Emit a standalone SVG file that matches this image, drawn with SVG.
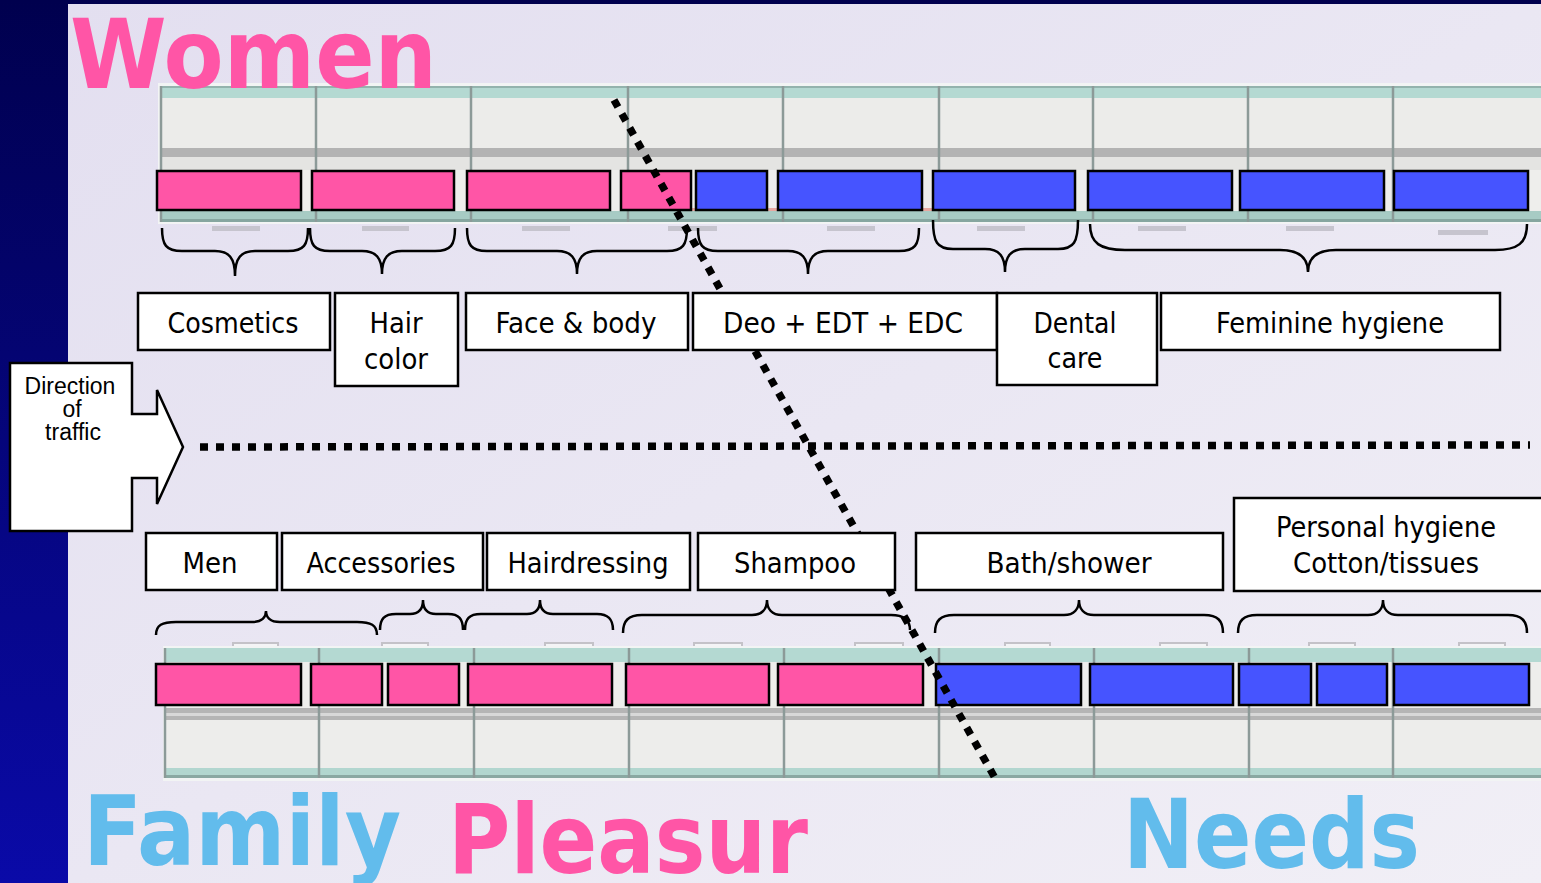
<svg xmlns="http://www.w3.org/2000/svg" width="1541" height="883" viewBox="0 0 1541 883">
<defs>
<linearGradient id="bgBlue" x1="0" y1="0" x2="0" y2="1">
<stop offset="0" stop-color="#00004e"/>
<stop offset="1" stop-color="#0a0aa8"/>
</linearGradient>
<linearGradient id="panel" x1="0" y1="0" x2="1" y2="1">
<stop offset="0" stop-color="#e3dff0"/>
<stop offset="1" stop-color="#f1eff6"/>
</linearGradient>
<style>
.pk{fill:#ff55a6;stroke:#000;stroke-width:2.5}
.bl{fill:#4654ff;stroke:#000;stroke-width:2.5}
.lb{fill:#fff;stroke:#000;stroke-width:2.5}
.tx{font-family:"DejaVu Sans Condensed","DejaVu Sans",sans-serif;font-size:29px;fill:#000;text-anchor:middle}
.ar{font-family:"Liberation Sans",Arial,sans-serif;font-size:23px;fill:#000;text-anchor:middle}
.brace{fill:none;stroke:#000;stroke-width:2.5}
.dots{fill:none;stroke:#000;stroke-width:7.5;stroke-dasharray:8 8}
.big{font-family:"DejaVu Sans",sans-serif;font-weight:bold;font-size:97px}
.div{stroke:#8c9a98;stroke-width:2.5}
.tick{fill:#c6c4ce}
.tickb{fill:#f4f4f6;stroke:#c4c2c8;stroke-width:2}
</style>
</defs>
<rect x="0" y="0" width="1541" height="883" fill="url(#bgBlue)"/>
<rect x="68" y="4" width="1473" height="879" fill="url(#panel)"/>

<g id="shelf-top">
<rect x="158" y="83" width="1383" height="141" fill="#f2f4f4"/>
<rect x="160" y="86" width="1381" height="12" fill="#b4d9d2"/>
<rect x="160" y="86" width="1381" height="2" fill="#93b3ad"/>
<rect x="160" y="98" width="1381" height="50" fill="#ececea"/>
<rect x="160" y="148" width="1381" height="9" fill="#b3b3b3"/>
<rect x="160" y="157" width="1381" height="13" fill="#e4e4e2"/>
<rect x="160" y="170" width="1381" height="41" fill="#eeeeec"/>
<rect x="620" y="208" width="320" height="5" fill="#e6a8a0"/>
<rect x="160" y="211" width="1381" height="11" fill="#a7cbc4"/>
<rect x="160" y="219" width="1381" height="3" fill="#86a6a0"/>
<g class="div">
<line x1="161" y1="86" x2="161" y2="222"/><line x1="316" y1="86" x2="316" y2="222"/><line x1="471" y1="86" x2="471" y2="222"/><line x1="628" y1="86" x2="628" y2="222"/><line x1="783" y1="86" x2="783" y2="222"/><line x1="939" y1="86" x2="939" y2="222"/><line x1="1093" y1="86" x2="1093" y2="222"/><line x1="1248" y1="86" x2="1248" y2="222"/><line x1="1393" y1="86" x2="1393" y2="222"/>
</g>
<g class="tick">
<rect x="212" y="226" width="48" height="5"/><rect x="362" y="226" width="47" height="5"/><rect x="522" y="226" width="48" height="5"/><rect x="668" y="226" width="49" height="5"/><rect x="827" y="226" width="48" height="5"/><rect x="977" y="226" width="48" height="5"/><rect x="1138" y="226" width="48" height="5"/><rect x="1286" y="226" width="48" height="5"/><rect x="1438" y="230" width="50" height="5"/>
</g>
</g>

<g id="products-top">
<rect class="pk" x="157" y="171" width="144" height="39"/>
<rect class="pk" x="312" y="171" width="142" height="39"/>
<rect class="pk" x="467" y="171" width="143" height="39"/>
<rect class="pk" x="621" y="171" width="70" height="39"/>
<rect class="bl" x="696" y="171" width="71" height="39"/>
<rect class="bl" x="778" y="171" width="144" height="39"/>
<rect class="bl" x="933" y="171" width="142" height="39"/>
<rect class="bl" x="1088" y="171" width="144" height="39"/>
<rect class="bl" x="1240" y="171" width="144" height="39"/>
<rect class="bl" x="1394" y="171" width="134" height="39"/>
</g>

<g id="shelf-bottom">
<g class="tickb">
<rect x="233" y="643" width="45" height="9"/><rect x="382" y="643" width="46" height="9"/><rect x="545" y="643" width="48" height="9"/><rect x="694" y="643" width="48" height="9"/><rect x="855" y="643" width="48" height="9"/><rect x="1005" y="643" width="45" height="9"/><rect x="1160" y="643" width="47" height="9"/><rect x="1309" y="643" width="46" height="9"/><rect x="1459" y="643" width="46" height="9"/>
</g>
<rect x="163" y="646" width="1378" height="135" fill="#f2f4f4"/>
<rect x="165" y="648" width="1376" height="14" fill="#b4d9d2"/>
<rect x="165" y="662" width="1376" height="46" fill="#eeeeec"/>
<rect x="165" y="708" width="1376" height="12" fill="#b5b5b5"/>
<rect x="165" y="713" width="1376" height="3" fill="#d8d8d8"/>
<rect x="165" y="720" width="1376" height="48" fill="#ededeb"/>
<rect x="165" y="768" width="1376" height="10" fill="#b2d6cf"/>
<rect x="165" y="775" width="1376" height="3" fill="#8aa8a2"/>
<g class="div">
<line x1="165" y1="648" x2="165" y2="778"/><line x1="319" y1="648" x2="319" y2="778"/><line x1="474" y1="648" x2="474" y2="778"/><line x1="629" y1="648" x2="629" y2="778"/><line x1="784" y1="648" x2="784" y2="778"/><line x1="939" y1="648" x2="939" y2="778"/><line x1="1094" y1="648" x2="1094" y2="778"/><line x1="1249" y1="648" x2="1249" y2="778"/><line x1="1393" y1="648" x2="1393" y2="778"/>
</g>
</g>

<g id="products-bottom">
<rect class="pk" x="156" y="664" width="145" height="41"/>
<rect class="pk" x="311" y="664" width="71" height="41"/>
<rect class="pk" x="388" y="664" width="71" height="41"/>
<rect class="pk" x="468" y="664" width="144" height="41"/>
<rect class="pk" x="626" y="664" width="143" height="41"/>
<rect class="pk" x="778" y="664" width="145" height="41"/>
<rect class="bl" x="936" y="664" width="145" height="41"/>
<rect class="bl" x="1090" y="664" width="143" height="41"/>
<rect class="bl" x="1239" y="664" width="72" height="41"/>
<rect class="bl" x="1317" y="664" width="70" height="41"/>
<rect class="bl" x="1394" y="664" width="135" height="41"/>
</g>

<g id="connectors">
<g class="brace">
<path d="M162,228 C162,245 166,251 182,251 L215,251 C229,251 235,258 235,276 C235,258 241,251 255,251 L288,251 C304,251 308,245 308,228"/>
<path d="M310,228 C310,245 314,251 330,251 L362,251 C376,251 382,258 382,274 C382,258 388,251 402,251 L435,251 C451,251 455,245 455,228"/>
<path d="M467,228 C467,245 471,251 487,251 L557,251 C571,251 577,258 577,274 C577,258 583,251 597,251 L667,251 C683,251 687,245 687,228"/>
<path d="M698,228 C698,245 702,251 718,251 L788,251 C802,251 808,258 808,274 C808,258 814,251 828,251 L899,251 C915,251 919,245 919,228"/>
<path d="M933,220 C933,242 937,249 953,249 L985,249 C999,249 1005,256 1005,272 C1005,256 1011,249 1025,249 L1058,249 C1074,249 1078,242 1078,220"/>
<path d="M1090,224 C1090,243 1100,250 1125,250 L1280,250 C1300,250 1308,258 1308,272 C1308,258 1316,250 1336,250 L1495,250 C1518,250 1527,243 1527,224"/>
<path d="M156,635 C156,625 162,622 176,622 L252,622 C262,622 266,617 266,611 C266,617 270,622 280,622 L357,622 C371,622 377,625 377,635"/>
<path d="M380,630 C380,619 384,614 396,614 L410,614 C419,614 423,609 423,600 C423,609 427,614 436,614 L448,614 C459,614 463,619 463,630"/>
<path d="M465,630 C465,619 469,614 481,614 L527,614 C536,614 540,609 540,600 C540,609 544,614 553,614 L597,614 C608,614 613,619 613,630"/>
<path d="M623,633 C623,621 628,615 642,615 L752,615 C762,615 767,609 767,600 C767,609 772,615 782,615 L891,615 C905,615 910,621 910,630"/>
<path d="M935,633 C935,621 940,615 954,615 L1064,615 C1074,615 1079,609 1079,600 C1079,609 1084,615 1094,615 L1204,615 C1218,615 1223,621 1223,633"/>
<path d="M1238,633 C1238,621 1243,615 1257,615 L1368,615 C1378,615 1383,609 1383,600 C1383,609 1388,615 1398,615 L1508,615 C1522,615 1527,621 1527,633"/>
</g>
<line class="dots" x1="200" y1="447" x2="1530" y2="445"/>
<line class="dots" x1="614" y1="100" x2="995" y2="778"/>
</g>

<g id="direction-of-traffic">
<polygon points="10,363 132,363 132,414 157,414 157,390 183,447 157,504 157,478 132,478 132,531 10,531" fill="#fff" stroke="#000" stroke-width="2.5"/>
<text class="ar" x="70" y="394">Direction</text>
<text class="ar" x="72" y="417">of</text>
<text class="ar" x="73" y="440">traffic</text>
</g>

<g id="label-cosmetics"><rect class="lb" x="138" y="293" width="192" height="57"/><text class="tx" x="233" y="333" textLength="131" lengthAdjust="spacingAndGlyphs">Cosmetics</text></g>
<g id="label-hair-color"><rect class="lb" x="335" y="293" width="123" height="93"/><text class="tx" x="396" y="333" textLength="53" lengthAdjust="spacingAndGlyphs">Hair</text><text class="tx" x="396" y="369" textLength="64" lengthAdjust="spacingAndGlyphs">color</text></g>
<g id="label-face-body"><rect class="lb" x="466" y="293" width="222" height="57"/><text class="tx" x="576" y="333" textLength="161" lengthAdjust="spacingAndGlyphs">Face &amp; body</text></g>
<g id="label-deo"><rect class="lb" x="693" y="293" width="304" height="57"/><text class="tx" x="843" y="333" textLength="240" lengthAdjust="spacingAndGlyphs">Deo + EDT + EDC</text></g>
<g id="label-dental-care"><rect class="lb" x="997" y="293" width="160" height="92"/><text class="tx" x="1075" y="333" textLength="83" lengthAdjust="spacingAndGlyphs">Dental</text><text class="tx" x="1075" y="368" textLength="55" lengthAdjust="spacingAndGlyphs">care</text></g>
<g id="label-feminine-hygiene"><rect class="lb" x="1161" y="293" width="339" height="57"/><text class="tx" x="1330" y="333" textLength="228" lengthAdjust="spacingAndGlyphs">Feminine hygiene</text></g>

<g id="label-men"><rect class="lb" x="146" y="533" width="131" height="57"/><text class="tx" x="210" y="573" textLength="55" lengthAdjust="spacingAndGlyphs">Men</text></g>
<g id="label-accessories"><rect class="lb" x="282" y="533" width="201" height="57"/><text class="tx" x="381" y="573" textLength="149" lengthAdjust="spacingAndGlyphs">Accessories</text></g>
<g id="label-hairdressing"><rect class="lb" x="487" y="533" width="203" height="57"/><text class="tx" x="588" y="573" textLength="161" lengthAdjust="spacingAndGlyphs">Hairdressing</text></g>
<g id="label-shampoo"><rect class="lb" x="698" y="533" width="197" height="57"/><text class="tx" x="795" y="573" textLength="122" lengthAdjust="spacingAndGlyphs">Shampoo</text></g>
<g id="label-bath-shower"><rect class="lb" x="916" y="533" width="307" height="57"/><text class="tx" x="1069" y="573" textLength="165" lengthAdjust="spacingAndGlyphs">Bath/shower</text></g>
<g id="label-personal-hygiene"><rect class="lb" x="1234" y="498" width="310" height="93"/><text class="tx" x="1386" y="537" textLength="220" lengthAdjust="spacingAndGlyphs">Personal hygiene</text><text class="tx" x="1386" y="573" textLength="186" lengthAdjust="spacingAndGlyphs">Cotton/tissues</text></g>

<g id="titles">
<text class="big" x="70" y="88" fill="#ff55a6" textLength="367" lengthAdjust="spacingAndGlyphs">Women</text>
<text class="big" x="83" y="865" fill="#62bcec" textLength="318" lengthAdjust="spacingAndGlyphs">Family</text>
<text class="big" x="448" y="873" fill="#ff55a6" textLength="360" lengthAdjust="spacingAndGlyphs">Pleasur</text>
<text class="big" x="1123" y="868" fill="#62bcec" textLength="297" lengthAdjust="spacingAndGlyphs">Needs</text>
</g>
</svg>
